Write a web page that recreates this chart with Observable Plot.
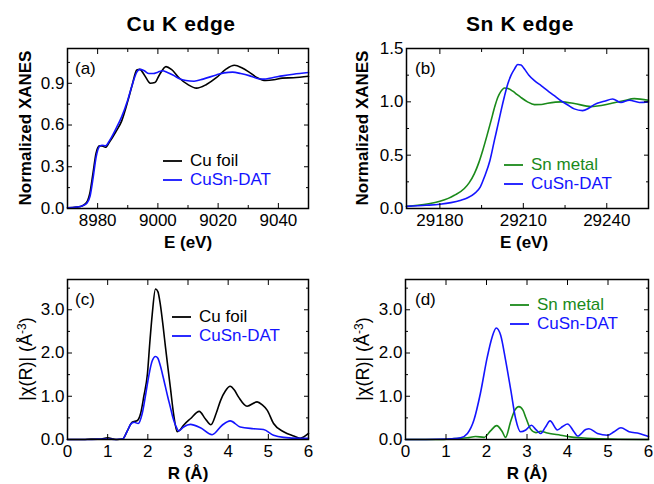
<!DOCTYPE html>
<html><head><meta charset="utf-8">
<script src="https://cdn.jsdelivr.net/npm/d3@7"></script>
<script src="https://cdn.jsdelivr.net/npm/@observablehq/plot@0.6"></script>
<style>
body{margin:0;background:#fff;}
#root{position:relative;width:654px;height:484px;overflow:hidden;font-family:'Liberation Sans',Arial,sans-serif;color:#000;background:#fff;}
.abs{position:absolute;white-space:nowrap;line-height:1;}
.panel{position:absolute;}
.row{position:absolute;height:16px;display:flex;align-items:center;white-space:nowrap;font-size:17px;line-height:16px;}
.row svg{margin-right:8px;}
</style></head><body><div id="root"></div>
<script>
// ---------- Data ----------
// (a) Cu K edge XANES
const aCuFoilE = [8970, 8973, 8975, 8976.5, 8977.5, 8978.5, 8979.5, 8980.6, 8981.5, 8982.6, 8984, 8986, 8988, 8990, 8991.5, 8993, 8994, 8995.5, 8997.5, 8999, 9000.5, 9002.7, 9004.5, 9007, 9010, 9012.8, 9016, 9019.4, 9022.5, 9025.4, 9028, 9030.3, 9033, 9035.8, 9038.5, 9041.3, 9045, 9050];
const aCuFoilY = [0.005, 0.01, 0.02, 0.05, 0.12, 0.26, 0.40, 0.45, 0.45, 0.44, 0.48, 0.55, 0.63, 0.77, 0.89, 0.995, 1.0, 0.96, 0.90, 0.905, 0.96, 1.02, 1.0, 0.94, 0.89, 0.865, 0.89, 0.94, 1.0, 1.03, 1.01, 0.98, 0.94, 0.92, 0.925, 0.937, 0.94, 0.95];
const aCuSnE = [8970, 8973, 8975, 8976.5, 8977.5, 8978.5, 8979.5, 8980.8, 8981.5, 8982.6, 8984, 8986, 8988, 8990, 8991.5, 8993, 8994, 8995.5, 8997, 8998.5, 9000, 9001.6, 9003, 9005, 9007, 9009.3, 9012, 9015, 9019.4, 9022, 9024.8, 9027.5, 9030.3, 9033, 9035, 9038, 9041.3, 9045, 9050];
const aCuSnY = [0.005, 0.01, 0.02, 0.04, 0.09, 0.22, 0.37, 0.45, 0.455, 0.45, 0.49, 0.57, 0.66, 0.78, 0.89, 0.98, 1.0, 0.99, 0.97, 0.97, 0.98, 0.99, 0.98, 0.96, 0.935, 0.92, 0.915, 0.93, 0.96, 0.975, 0.98, 0.97, 0.955, 0.935, 0.93, 0.94, 0.953, 0.965, 0.977];
// (b) Sn K edge XANES
const bSnMetalE = [29168, 29172, 29176, 29180, 29183, 29185.2, 29188.8, 29190.5, 29192.4, 29194, 29195.4, 29197, 29198.4, 29199.8, 29200.8, 29202, 29203.2, 29204.5, 29206.2, 29207.7, 29209.2, 29211.5, 29214, 29216.5, 29218.7, 29223.5, 29228.3, 29234.3, 29238, 29241.5, 29246, 29249.9, 29255];
const bSnMetalY = [0.02, 0.03, 0.045, 0.068, 0.095, 0.124, 0.187, 0.24, 0.327, 0.43, 0.544, 0.69, 0.824, 0.96, 1.04, 1.1, 1.13, 1.125, 1.10, 1.07, 1.04, 1.0, 0.974, 0.975, 0.986, 1.0, 0.985, 0.955, 0.965, 0.985, 1.01, 1.03, 1.015];
const bCuSnE = [29168, 29175, 29180, 29184, 29187.6, 29190, 29192.4, 29194.5, 29196, 29198, 29199.6, 29201, 29202, 29203.2, 29204.4, 29205.6, 29206.8, 29208, 29209.2, 29210.4, 29212, 29214, 29216.5, 29218.7, 29221, 29223.5, 29226, 29228.3, 29231.3, 29233.5, 29235.5, 29239.1, 29242.1, 29245.1, 29248.1, 29251.7, 29255];
const bCuSnY = [0.02, 0.03, 0.04, 0.055, 0.078, 0.1, 0.14, 0.2, 0.295, 0.45, 0.638, 0.8, 0.918, 1.05, 1.167, 1.25, 1.307, 1.35, 1.345, 1.307, 1.25, 1.198, 1.15, 1.105, 1.06, 1.01, 0.97, 0.934, 0.918, 0.94, 0.974, 1.005, 1.027, 0.994, 1.015, 0.994, 1.0];
// (c) Cu K edge |chi(R)|
const cCuFoilR = [0, 0.4, 0.58, 0.8, 1.0, 1.15, 1.24, 1.37, 1.49, 1.61, 1.74, 1.82, 1.9, 1.99, 2.05, 2.11, 2.19, 2.25, 2.31, 2.38, 2.44, 2.5, 2.56, 2.64, 2.73, 2.8, 2.89, 3.06, 3.28, 3.43, 3.57, 3.7, 3.81, 3.93, 4.05, 4.15, 4.26, 4.47, 4.72, 4.85, 4.97, 5.13, 5.38, 5.63, 5.79, 6.0];
const cCuFoilY = [0, 0, 0.01, 0.01, 0.04, 0.01, 0.0, 0.01, 0.2, 0.4, 0.44, 0.6, 1.0, 1.52, 2.25, 2.9, 3.48, 3.42, 3.13, 2.62, 2.13, 1.66, 1.21, 0.6, 0.18, 0.22, 0.33, 0.48, 0.65, 0.48, 0.34, 0.6, 0.9, 1.12, 1.23, 1.15, 0.98, 0.77, 0.87, 0.8, 0.68, 0.37, 0.18, 0.08, 0.03, 0.14];
const cCuSnR = [0, 0.5, 1.0, 1.2, 1.37, 1.49, 1.57, 1.66, 1.76, 1.86, 1.93, 1.99, 2.05, 2.11, 2.19, 2.25, 2.31, 2.38, 2.44, 2.5, 2.56, 2.62, 2.69, 2.77, 2.89, 3.06, 3.31, 3.6, 3.85, 4.05, 4.3, 4.63, 4.88, 5.13, 5.38, 5.79, 6.0];
const cCuSnY = [0, 0, 0.01, 0.0, 0.01, 0.2, 0.35, 0.4, 0.37, 0.6, 0.95, 1.29, 1.6, 1.82, 1.92, 1.88, 1.71, 1.45, 1.21, 0.97, 0.75, 0.52, 0.33, 0.2, 0.29, 0.35, 0.27, 0.11, 0.33, 0.43, 0.29, 0.25, 0.23, 0.1, 0.05, 0.03, 0.03];
// (d) Sn K edge |chi(R)|
const dSnMetalR = [0, 0.95, 1.2, 1.53, 1.73, 1.94, 2.1, 2.25, 2.39, 2.47, 2.6, 2.7, 2.8, 2.9, 2.97, 3.09, 3.22, 3.34, 3.5, 3.83, 4.16, 4.49, 5.07, 6.0];
const dSnMetalY = [0, 0, 0.02, 0.04, 0.07, 0.05, 0.2, 0.32, 0.18, 0.05, 0.43, 0.68, 0.76, 0.68, 0.51, 0.24, 0.16, 0.19, 0.15, 0.1, 0.05, 0.03, 0.01, 0.0];
const dCuSnR = [0, 0.5, 1.03, 1.36, 1.53, 1.69, 1.85, 2.02, 2.14, 2.24, 2.35, 2.47, 2.6, 2.72, 2.84, 2.97, 3.11, 3.22, 3.34, 3.45, 3.57, 3.75, 3.88, 4.0, 4.16, 4.25, 4.45, 4.53, 4.74, 4.99, 5.15, 5.32, 5.52, 5.77, 6.0];
const dCuSnY = [0, 0, 0.01, 0.04, 0.14, 0.45, 1.07, 1.91, 2.37, 2.58, 2.41, 1.84, 1.14, 0.48, 0.18, 0.22, 0.33, 0.23, 0.14, 0.28, 0.43, 0.22, 0.3, 0.36, 0.18, 0.08, 0.23, 0.25, 0.14, 0.1, 0.18, 0.27, 0.18, 0.14, 0.07];

// Ticks
const aXMajor = [8980, 9000, 9020, 9040], aXMinor = [8990, 9010, 9030];
const aYMajor = [0, 0.3, 0.6, 0.9], aYMinor = [0.15, 0.45, 0.75, 1.05];
const bXMajor = [29180, 29210, 29240], bXMinor = [29195, 29225];
const bYMajor = [0, 0.5, 1.0, 1.5], bYMinor = [0.25, 0.75, 1.25];
const rXMajor = [0, 1, 2, 3, 4, 5, 6];
const rYMajor = [0, 1, 2, 3], rYMinor = [0.5, 1.5, 2.5, 3.5];

const BLACK = "#000000", BLUE = "#1414ff", GREEN = "#1a8a1a";

// ---------- Helpers ----------
const root = document.getElementById("root");
const zip = (xs, ys) => xs.map((x, i) => ({x, y: ys[i]}));

function axes(xMaj, xMin, xFmt, yMaj, yMin, yFmt) {
  const tk = {label: null};
  return [
    Plot.axisX({...tk, anchor: "bottom", ticks: xMaj, tickSize: -5, tickPadding: 10, tickFormat: xFmt}),
    Plot.axisX({...tk, anchor: "bottom", ticks: xMin, tickSize: -3, fill: "none"}),
    Plot.axisX({...tk, anchor: "top", ticks: xMaj, tickSize: -5, fill: "none"}),
    Plot.axisX({...tk, anchor: "top", ticks: xMin, tickSize: -3, fill: "none"}),
    Plot.axisY({...tk, anchor: "left", ticks: yMaj, tickSize: -5, tickPadding: 8, tickFormat: yFmt}),
    Plot.axisY({...tk, anchor: "left", ticks: yMin, tickSize: -3, fill: "none"}),
    Plot.axisY({...tk, anchor: "right", ticks: yMaj, tickSize: -5, fill: "none"}),
    Plot.axisY({...tk, anchor: "right", ticks: yMin, tickSize: -3, fill: "none"})
  ];
}

function panel({left, top, width, height, margins, xDomain, yDomain, series, axisMarks}) {
  const chart = Plot.plot({
    width, height,
    marginLeft: margins[0], marginRight: margins[1], marginTop: margins[2], marginBottom: margins[3],
    x: {domain: xDomain},
    y: {domain: yDomain},
    style: {fontFamily: "'Liberation Sans', Arial, sans-serif", fontSize: "17px", color: "#000", background: "transparent", overflow: "visible"},
    marks: [
      ...series.map(s => Plot.line(zip(s.x, s.y), {x: "x", y: "y", stroke: s.color, strokeWidth: 1.6, curve: "monotone-x"})),
      ...axisMarks,
      Plot.frame({stroke: "#000", strokeWidth: 1.5})
    ]
  });
  const d = document.createElement("div");
  d.className = "panel";
  d.style.left = left + "px"; d.style.top = top + "px";
  d.appendChild(chart);
  root.appendChild(d);
}

function label(html, x, y, {size = 17, weight = "normal", rotate = 0, spacing = 0} = {}) {
  const d = document.createElement("div");
  d.className = "abs";
  d.innerHTML = html;
  d.style.left = x + "px"; d.style.top = y + "px";
  d.style.fontSize = size + "px"; d.style.fontWeight = weight;
  d.style.letterSpacing = spacing + "px";
  d.style.transform = `translate(-50%,-50%) rotate(${rotate}deg)`;
  root.appendChild(d);
}

function corner(text, x, yc) {
  const d = document.createElement("div");
  d.className = "abs";
  d.textContent = text;
  d.style.left = x + "px"; d.style.top = (yc - 8.5) + "px"; d.style.fontSize = "17px";
  root.appendChild(d);
}

function legend(x, yc, items, gap) {
  items.forEach((it, i) => {
    const r = document.createElement("div");
    r.className = "row";
    r.style.left = x + "px"; r.style.top = (yc + i * gap - 8) + "px";
    r.style.color = it.color;
    r.innerHTML = `<svg width="19" height="16"><line x1="0" x2="19" y1="8" y2="8" stroke="${it.color}" stroke-width="1.8"/></svg><span>${it.name}</span>`;
    root.appendChild(r);
  });
}

const f1 = d3.format(".1f"), fd = d3.format("d");

// ---------- Panels ----------
panel({left: 0, top: 0, width: 327, height: 250, margins: [67, 19, 48, 42],
  xDomain: [8970, 9050], yDomain: [0, 1.15],
  series: [{x: aCuFoilE, y: aCuFoilY, color: BLACK}, {x: aCuSnE, y: aCuSnY, color: BLUE}],
  axisMarks: axes(aXMajor, aXMinor, fd, aYMajor, aYMinor, f1)});

panel({left: 327, top: 0, width: 327, height: 250, margins: [79, 6, 48, 42],
  xDomain: [29168, 29255], yDomain: [0, 1.5],
  series: [{x: bSnMetalE, y: bSnMetalY, color: GREEN}, {x: bCuSnE, y: bCuSnY, color: BLUE}],
  axisMarks: axes(bXMajor, bXMinor, fd, bYMajor, bYMinor, f1)});

panel({left: 0, top: 240, width: 327, height: 244, margins: [67, 19, 39, 45],
  xDomain: [0, 6], yDomain: [0, 3.7],
  series: [{x: cCuFoilR, y: cCuFoilY, color: BLACK}, {x: cCuSnR, y: cCuSnY, color: BLUE}],
  axisMarks: axes(rXMajor, [], fd, rYMajor, rYMinor, f1)});

panel({left: 327, top: 240, width: 327, height: 244, margins: [78, 6, 39, 45],
  xDomain: [0, 6], yDomain: [0, 3.7],
  series: [{x: dSnMetalR, y: dSnMetalY, color: GREEN}, {x: dCuSnR, y: dCuSnY, color: BLUE}],
  axisMarks: axes(rXMajor, [], fd, rYMajor, rYMinor, f1)});

// ---------- Text ----------
label("Cu K edge", 181, 23, {size: 21, weight: "bold", spacing: 0.6});
label("Sn K edge", 520, 23, {size: 21, weight: "bold", spacing: 0.6});
label("Normalized XANES", 25, 128, {size: 17, weight: "bold", rotate: -90});
label("Normalized XANES", 362, 128, {size: 17, weight: "bold", rotate: -90});
label("|χ(R)| (Å<sup style='font-size:12px;vertical-align:6px'>-3</sup>)", 25, 359, {size: 18, rotate: -90});
label("|χ(R)| (Å<sup style='font-size:12px;vertical-align:6px'>-3</sup>)", 362, 359, {size: 18, rotate: -90});
label("E (eV)", 188, 242, {size: 17, weight: "bold"});
label("E (eV)", 524, 242, {size: 17, weight: "bold"});
label("R (Å)", 188, 473, {size: 17, weight: "bold"});
label("R (Å)", 527, 473, {size: 17, weight: "bold"});

corner("(a)", 75, 68);
corner("(b)", 415, 68);
corner("(c)", 75, 299);
corner("(d)", 415, 299);

legend(163, 161, [{name: "Cu foil", color: BLACK}, {name: "CuSn-DAT", color: BLUE}], 19);
legend(504, 165, [{name: "Sn metal", color: GREEN}, {name: "CuSn-DAT", color: BLUE}], 19);
legend(172, 317, [{name: "Cu foil", color: BLACK}, {name: "CuSn-DAT", color: BLUE}], 19);
legend(510, 305, [{name: "Sn metal", color: GREEN}, {name: "CuSn-DAT", color: BLUE}], 19);
</script></body></html>
